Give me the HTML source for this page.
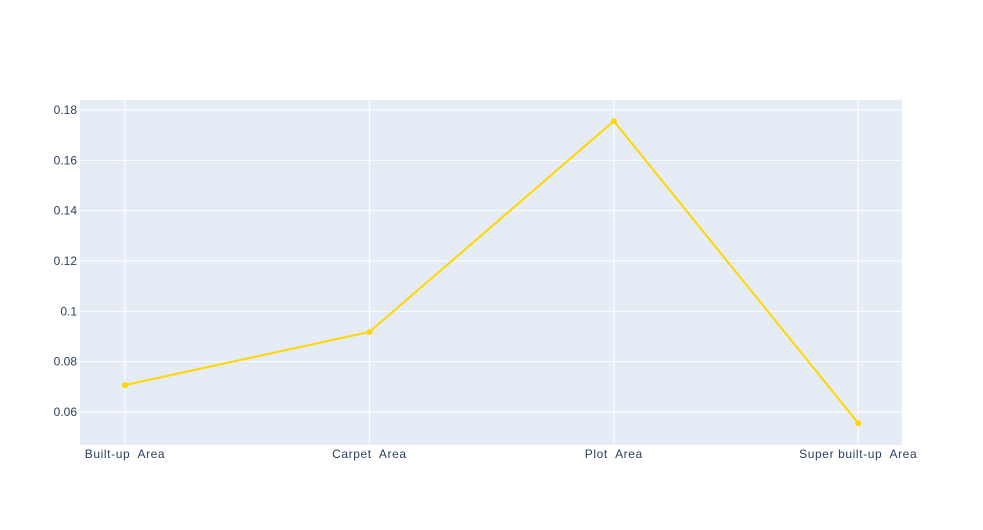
<!DOCTYPE html>
<html><head><meta charset="utf-8"><style>
body{margin:0;background:#fff;font-family:"Liberation Sans",Arial,sans-serif;}
svg text{font-family:"Liberation Sans",Arial,sans-serif;font-size:12px;fill:#2a3f5f;white-space:pre;}
svg text.xl{letter-spacing:0.6px;}
</style></head><body>
<svg id="chart" width="983" height="525">
<rect x="80" y="100" width="822" height="345" fill="#e5ecf6"/>
<g id="grid"></g><g id="series"></g><g id="labels"></g>
</svg>
<script>
const categories=["Built-up  Area","Carpet  Area","Plot  Area","Super built-up  Area"];
const values=[0.0707,0.0918,0.1756,0.0556];
const yTicks=[0.06,0.08,0.1,0.12,0.14,0.16,0.18];
const yTickLabels=["0.06","0.08","0.1","0.12","0.14","0.16","0.18"];
const ns="http://www.w3.org/2000/svg";
function xPos(i){return 125+i*244.4;}
function yPos(v){return 412-(v-0.06)*2516.7;}
function mk(t,a,p){const e=document.createElementNS(ns,t);for(const k in a)e.setAttribute(k,a[k]);p.appendChild(e);return e;}
const grid=document.getElementById('grid'),lab=document.getElementById('labels'),ser=document.getElementById('series');
yTicks.forEach((v,i)=>{
 const l=mk('line',{x1:80,x2:902,y1:yPos(v),y2:yPos(v),stroke:'#fff','stroke-width':1},grid);
 
 
 const t=mk('text',{x:77,y:yPos(v)+4,'text-anchor':'end'},lab);t.textContent=yTickLabels[i];
 
 
});
categories.forEach((c,i)=>{
 const l=mk('line',{x1:xPos(i),x2:xPos(i),y1:100,y2:445,stroke:'#fff','stroke-width':1},grid);
 
 
 const t=mk('text',{x:xPos(i),y:458,'text-anchor':'middle','class':'xl'},lab);t.textContent=c;
 
 
});
const pl=mk('polyline',{points:values.map((v,i)=>xPos(i)+','+yPos(v)).join(' '),fill:'none',stroke:'#ffd700','stroke-width':2},ser);


values.forEach((v,i)=>{
 const c=mk('circle',{cx:xPos(i),cy:yPos(v),r:3,fill:'#ffd700'},ser);
 
 
});
</script>
</body></html>
